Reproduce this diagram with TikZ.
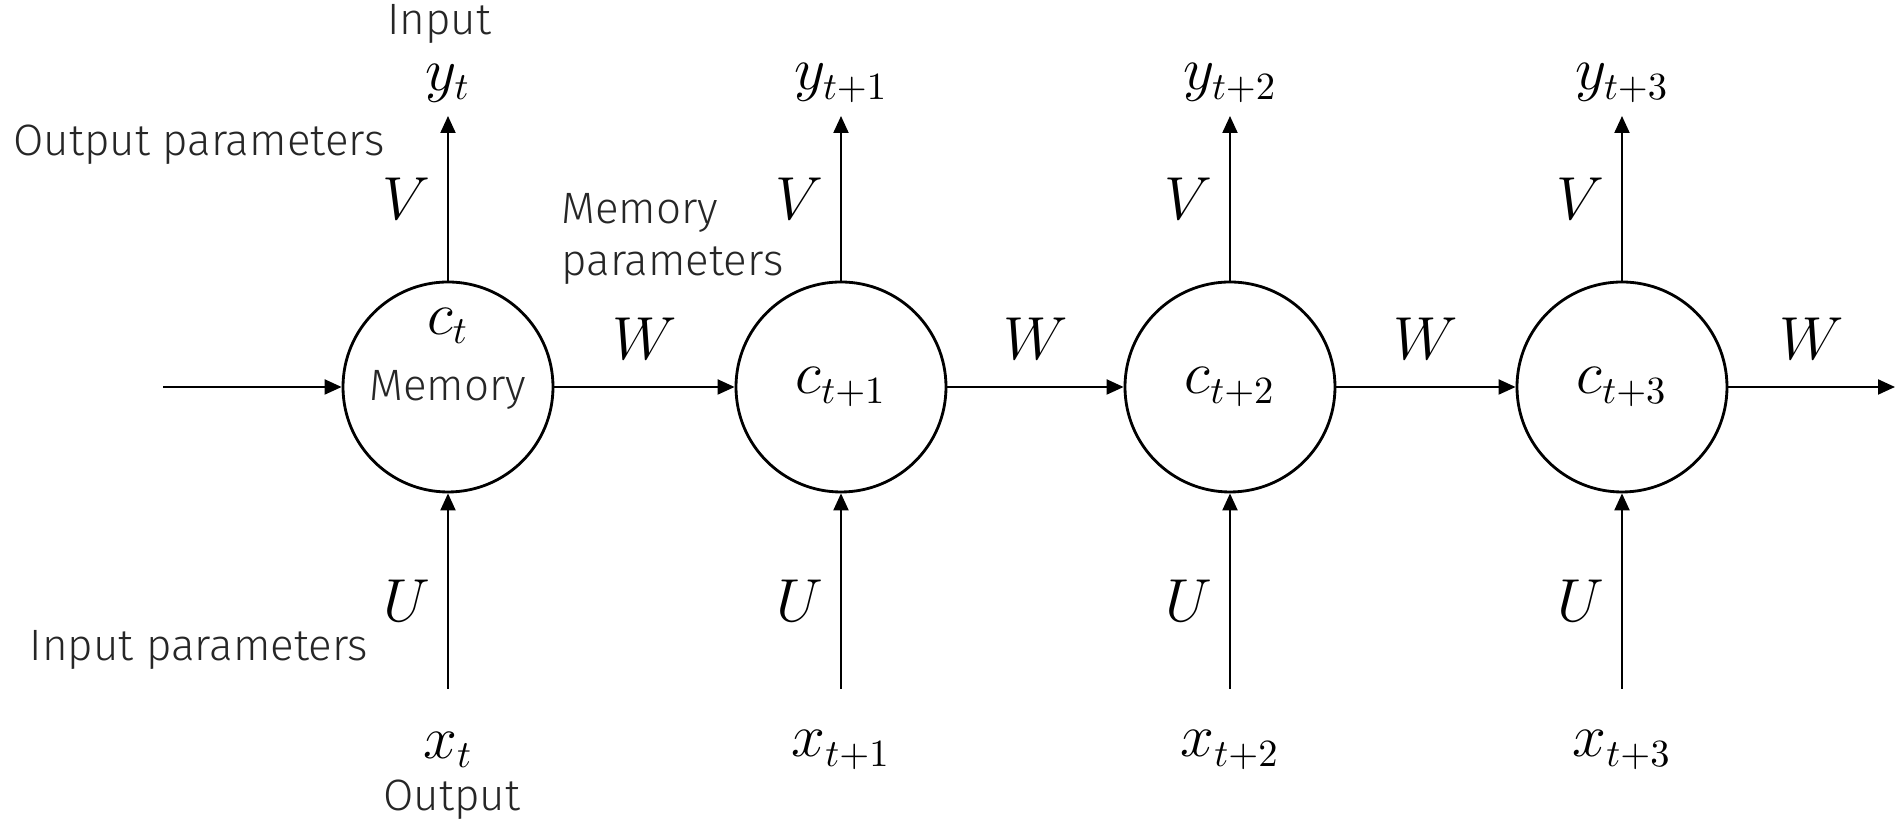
\documentclass[tikz,border=0pt]{standalone}
\usepackage{amsmath}
\usepackage[no-math]{fontspec}
\usepackage{tikz}
\usetikzlibrary{
  arrows.meta,
  positioning
}
\newfontfamily\handfont{Fira Sans Light}[Scale=1]
\tikzset{
  cell/.style={
    draw, circle, line width=0.8pt,
    minimum size=2.1cm, inner sep=0pt,
    font=\fontsize{16}{18}\selectfont
  },
  flow arrow/.style={
    -{Triangle[length=1.7mm, width=1.5mm]}, line width=0.6pt
  },
  var label/.style={
    font=\fontsize{16}{18}\selectfont
  },
  weight label/.style={
    font=\fontsize{16}{18}\selectfont
  },
  note/.style={
    font=\handfont\fontsize{12.5}{15}\selectfont, text=black!85
  },
}
\begin{document}
\begin{tikzpicture}
  \useasboundingbox (0,0) rectangle (18.95,8.26);

  % Memory cells
  \node[cell] (c0) at (4.48, 4.39) {};
  \node[var label] at (4.48, 5.00) {$c_t$};
  \node[note] at (4.48, 4.36) {Memory};
  \node[cell] (c1) at (8.41, 4.39) {$c_{t+1}$};
  \node[cell] (c2) at (12.30, 4.39) {$c_{t+2}$};
  \node[cell] (c3) at (16.22, 4.39) {$c_{t+3}$};

  % Outputs
  \coordinate (y0tip) at (4.48, 7.10);
  \coordinate (y1tip) at (8.41, 7.10);
  \coordinate (y2tip) at (12.30, 7.10);
  \coordinate (y3tip) at (16.22, 7.10);
  \node[var label] (y0) at (4.48, 7.43) {$y_t$};
  \node[var label] (y1) at (8.41, 7.43) {$y_{t+1}$};
  \node[var label] (y2) at (12.30, 7.43) {$y_{t+2}$};
  \node[var label] (y3) at (16.22, 7.43) {$y_{t+3}$};

  % Inputs
  \coordinate (x0tail) at (4.48, 1.37);
  \coordinate (x1tail) at (8.41, 1.37);
  \coordinate (x2tail) at (12.30, 1.37);
  \coordinate (x3tail) at (16.22, 1.37);
  \node[var label] (x0) at (4.48, 0.76) {$x_t$};
  \node[var label] (x1) at (8.41, 0.76) {$x_{t+1}$};
  \node[var label] (x2) at (12.30, 0.76) {$x_{t+2}$};
  \node[var label] (x3) at (16.22, 0.76) {$x_{t+3}$};

  % Output weights
  \draw[flow arrow] (c0.north) -- node[weight label, left=0.05cm] {$V$} (y0tip);
  \draw[flow arrow] (c1.north) -- node[weight label, left=0.05cm] {$V$} (y1tip);
  \draw[flow arrow] (c2.north) -- node[weight label, left=0.05cm] {$V$} (y2tip);
  \draw[flow arrow] (c3.north) -- node[weight label, left=0.05cm] {$V$} (y3tip);

  % Input weights
  \draw[flow arrow] (x0tail) -- node[weight label, left=0.05cm, yshift=-0.1cm] {$U$} (c0.south);
  \draw[flow arrow] (x1tail) -- node[weight label, left=0.05cm, yshift=-0.1cm] {$U$} (c1.south);
  \draw[flow arrow] (x2tail) -- node[weight label, left=0.05cm, yshift=-0.1cm] {$U$} (c2.south);
  \draw[flow arrow] (x3tail) -- node[weight label, left=0.05cm, yshift=-0.1cm] {$U$} (c3.south);

  % Recurrent weights
  \coordinate (start) at (1.63, 4.39);
  \coordinate (finish) at (18.95, 4.39);
  \draw[flow arrow] (start) -- (c0.west);
  \draw[flow arrow] (c0.east) -- node[weight label, above=0.15cm] {$W$} (c1.west);
  \draw[flow arrow] (c1.east) -- node[weight label, above=0.15cm] {$W$} (c2.west);
  \draw[flow arrow] (c2.east) -- node[weight label, above=0.15cm] {$W$} (c3.west);
  \draw[flow arrow] (c3.east) -- node[weight label, above=0.15cm] {$W$} (finish);

  % Annotations
  \node[note] at (4.39, 8.02) {Input};
  \node[note] at (1.99, 6.81) {Output parameters};
  \node[note, align=left, anchor=west] at (5.49, 5.87) {Memory\\parameters};
  \node[note] at (1.99, 1.76) {Input parameters};
  \node[note] at (4.52, 0.26) {Output};

\end{tikzpicture}
\end{document}
